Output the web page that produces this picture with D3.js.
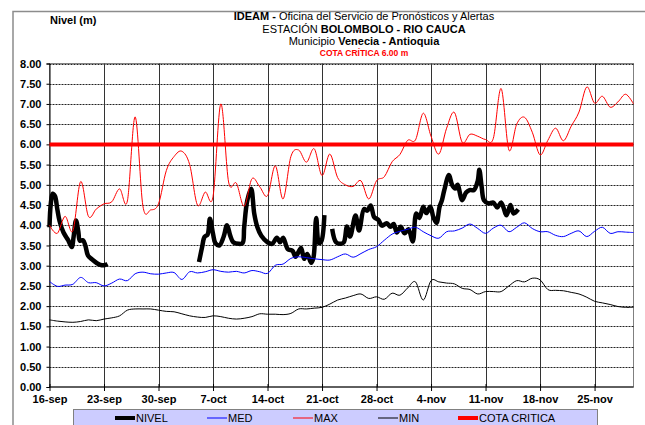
<!DOCTYPE html>
<html>
<head>
<meta charset="utf-8">
<script src="https://cdn.jsdelivr.net/npm/d3@7"></script>
<style>
  body { margin: 0; background: #fff; }
  svg { display: block; font-family: "Liberation Sans", Arial, sans-serif; }
</style>
</head>
<body>
<svg id="chart" width="645" height="425"></svg>
<script>
// Period shown on the time axis
const periodStart = "2015-09-16";
const periodEnd = "2015-11-30";

// Weekly axis labels
const tickLabels = ["16-sep", "23-sep", "30-sep", "7-oct", "14-oct", "21-oct",
                    "28-oct", "4-nov", "11-nov", "18-nov", "25-nov"];

// Daily historical statistics (m), one value per day from 16-sep to 30-nov
const medValues = [2.61, 2.49, 2.52, 2.54, 2.71, 2.58, 2.58, 2.50, 2.57, 2.67,
  2.63, 2.80, 2.84, 2.80, 2.79, 2.82, 2.83, 2.66, 2.85, 2.82,
  2.85, 2.90, 2.86, 2.84, 2.86, 2.82, 2.88, 2.85, 2.81, 3.01,
  3.04, 3.18, 3.22, 3.20, 3.17, 3.15, 3.14, 3.22, 3.29, 3.21,
  3.30, 3.40, 3.47, 3.63, 3.78, 3.85, 3.90, 3.95, 3.84, 3.74,
  3.68, 3.84, 3.86, 3.93, 4.03, 3.92, 3.80, 3.93, 4.00, 3.84,
  3.95, 4.06, 3.92, 3.84, 3.84, 3.75, 3.72, 3.80, 3.86, 3.72,
  3.85, 3.95, 3.80, 3.84, 3.83, 3.82];

const maxValues = [4.00, 3.80, 4.22, 3.86, 5.08, 4.22, 4.40, 4.53, 4.58, 4.90,
  4.60, 6.68, 4.47, 4.38, 4.53, 5.35, 5.70, 5.83, 5.50, 4.50,
  4.82, 4.71, 7.00, 5.07, 5.04, 4.47, 5.15, 4.95, 4.73, 5.47,
  4.65, 5.70, 5.86, 5.56, 5.89, 5.23, 5.76, 5.18, 5.00, 4.96,
  5.10, 4.65, 5.10, 5.20, 5.57, 5.75, 6.10, 6.11, 6.77, 6.20,
  5.76, 6.40, 6.79, 6.05, 6.25, 6.20, 6.12, 6.15, 7.38, 5.86,
  6.50, 6.67, 6.30, 5.74, 6.10, 6.40, 6.09, 6.45, 6.80, 7.42,
  7.02, 7.19, 6.92, 7.05, 7.24, 7.00];

const minValues = [1.66, 1.63, 1.61, 1.60, 1.62, 1.66, 1.64, 1.68, 1.71, 1.76,
  1.90, 1.93, 1.93, 1.93, 1.90, 1.87, 1.86, 1.81, 1.76, 1.73,
  1.72, 1.76, 1.74, 1.70, 1.68, 1.70, 1.74, 1.81, 1.80, 1.80,
  1.79, 1.82, 1.93, 1.93, 1.95, 1.97, 2.05, 2.15, 2.20, 2.26,
  2.30, 2.19, 2.23, 2.17, 2.32, 2.27, 2.45, 2.60, 2.15, 2.63,
  2.60, 2.57, 2.55, 2.44, 2.41, 2.30, 2.36, 2.36, 2.36, 2.50,
  2.63, 2.60, 2.69, 2.65, 2.41, 2.39, 2.38, 2.34, 2.30, 2.22,
  2.12, 2.08, 2.04, 1.99, 1.97, 1.97];

// Observed level readings: days since 16-sep and level (m); null marks a gap
const nivelDays = [0, 0.15, 0.4, 0.7, 1.0, 1.3, 1.8, 2.4, 2.85, 3.1, 3.4, 3.7, 3.9, 4.3, 4.6,
  4.95, 5.5, 6.1, 6.7, 7.2, 7.45,
  13,
  19.2, 19.6, 19.9, 20.3, 20.6, 21.0, 21.3, 21.8, 22.35, 22.8, 23.2, 23.6, 24.3, 24.8,
  25.0, 25.4, 25.9, 26.3, 26.7, 27.2, 28.0, 28.6, 29.2, 29.6, 30.0, 30.6, 31.2, 31.6,
  32.3, 32.7, 33.1, 33.6, 33.9, 34.25, 34.6, 34.9, 35.3,
  35.8,
  36.3, 36.8, 37.4, 37.8, 38.2, 38.6, 39.3, 39.75, 40.4, 40.8, 41.25, 41.7, 42.2, 42.7,
  43.3, 43.8, 44.2, 44.6, 45.1, 45.6, 46.1, 46.65, 47.1, 47.5, 48.0, 48.4, 48.9, 49.3,
  49.7, 50.1, 50.4, 50.7, 51.3, 51.7, 52.1, 52.4, 53.0, 53.5, 53.95, 54.5, 55.0, 55.2,
  55.5, 55.8, 56.4, 57.0, 57.5, 58.0, 58.7, 59.2, 59.6, 60.2];
const nivelValues = [3.95, 4.50, 4.78, 4.72, 4.40, 4.10, 3.82, 3.63, 3.46, 3.72, 4.12, 3.85, 3.62, 3.63, 3.50,
  3.25, 3.15, 3.06, 3.01, 3.02, 3.04,
  null,
  3.09, 3.46, 3.71, 3.77, 4.16, 3.79, 3.56, 3.50, 3.71, 4.00, 3.75, 3.58, 3.54, 3.56,
  3.95, 4.61, 4.90, 4.28, 3.95, 3.74, 3.58, 3.54, 3.69, 3.58, 3.69, 3.41, 3.37, 3.22,
  3.44, 3.17, 3.29, 3.07, 3.20, 4.18, 3.56, 3.60, 4.25,
  null,
  3.91, 3.58, 3.54, 3.58, 3.97, 3.72, 4.24, 3.87, 4.40, 4.36, 4.49, 4.20, 4.14, 3.99,
  4.05, 3.96, 4.03, 3.82, 3.96, 3.80, 3.90, 3.60, 4.29, 4.18, 4.46, 4.30, 4.46, 4.20,
  4.06, 4.46, 4.62, 4.87, 5.24, 5.00, 4.91, 5.00, 4.62, 4.81, 4.87, 4.87, 5.10, 5.37,
  4.95, 4.62, 4.54, 4.56, 4.44, 4.56, 4.25, 4.50, 4.29, 4.39];

// Critical level
const cotaCritica = 6.00;

// Level axis ticks
const yTicks = [0, 0.5, 1, 1.5, 2, 2.5, 3, 3.5, 4, 4.5, 5, 5.5, 6, 6.5, 7, 7.5, 8];

const legendItems = [
  { label: "NIVEL", color: "#000", width: 4 },
  { label: "MED", color: "#0000ff", width: 1 },
  { label: "MAX", color: "#ff0000", width: 1 },
  { label: "MIN", color: "#000", width: 1 },
  { label: "COTA CRITICA", color: "#ff0000", width: 4 }
];

const parse = d3.timeParse("%Y-%m-%d");
const t0 = parse(periodStart), t1 = parse(periodEnd);
const days = d3.timeDay.range(t0, d3.timeDay.offset(t1, 1));
const weekDates = d3.timeDay.range(t0, t1, 7);

const svg = d3.select("#chart");
const plot = { left: 49.5, right: 633.5, top: 63.5, bottom: 387 };

const x = d3.scaleTime().domain([t0, t1]).range([plot.left, plot.right]);
const y = d3.scaleLinear().domain([0, 8]).range([plot.bottom, plot.top]);

// Outer frame
svg.append("path")
  .attr("d", `M13,430 V11.5 H650`)
  .attr("fill", "none").attr("stroke", "#8c8c8c").attr("stroke-width", 1.5);

// Plot border
svg.append("rect")
  .attr("x", plot.left).attr("y", plot.top)
  .attr("width", plot.right - plot.left).attr("height", plot.bottom - plot.top)
  .attr("fill", "none").attr("stroke", "#808080").attr("stroke-width", 1);

// Horizontal dashed gridlines
svg.append("g").selectAll("line").data(yTicks.filter(v => v > 0)).join("line")
  .attr("x1", plot.left).attr("x2", plot.right)
  .attr("y1", d => Math.round(y(d)) + 0.5).attr("y2", d => Math.round(y(d)) + 0.5)
  .attr("stroke", "#222").attr("stroke-width", 1).attr("stroke-dasharray", "2,1");

// Vertical weekly gridlines
svg.append("g").selectAll("line").data(weekDates.slice(1)).join("line")
  .attr("x1", d => Math.round(x(d)) + 0.5).attr("x2", d => Math.round(x(d)) + 0.5)
  .attr("y1", plot.top).attr("y2", plot.bottom)
  .attr("stroke", "#333").attr("stroke-width", 1);

// Axes
const yAxis = d3.axisLeft(y).tickValues(yTicks).tickFormat(d3.format(".2f")).tickSize(3).tickPadding(5);
const gy = svg.append("g").attr("transform", `translate(${plot.left},0)`).call(yAxis);
gy.select(".domain").attr("stroke", "#000");
gy.selectAll("text").attr("font-size", 11).attr("font-weight", "bold").attr("fill", "#000")
  .style("font-family", "'Liberation Sans', Arial, sans-serif");

const xAxis = d3.axisBottom(x).tickValues(weekDates)
  .tickFormat((d, i) => tickLabels[i]).tickSize(4).tickPadding(4);
const gx = svg.append("g").attr("transform", `translate(0,${plot.bottom})`).call(xAxis);
gx.select(".domain").attr("stroke", "#000").attr("d", `M${plot.left},0H${plot.right}`);
gx.selectAll(".tick line").attr("y1", -3);
gx.selectAll("text").attr("font-size", 11).attr("font-weight", "bold").attr("fill", "#000")
  .style("font-family", "'Liberation Sans', Arial, sans-serif");

// Series (smoothed lines)
const curve = d3.curveCatmullRom.alpha(0);
const dailyLine = d3.line().x((d, i) => x(days[i])).y(d => y(d)).curve(curve);

const nivelPts = nivelDays.map((d, i) => ({ t: d3.timeMinute.offset(t0, Math.round(d * 1440)), v: nivelValues[i] }));
const nivelLine = d3.line().defined(d => d.v !== null).x(d => x(d.t)).y(d => y(d.v)).curve(d3.curveCatmullRom.alpha(0.5));

svg.append("path").attr("d", nivelLine(nivelPts))
  .attr("fill", "none").attr("stroke", "#000").attr("stroke-width", 4.5).attr("stroke-linejoin", "round");
svg.append("path").attr("d", dailyLine(medValues))
  .attr("fill", "none").attr("stroke", "#0000ff").attr("stroke-width", 1);
svg.append("path").attr("d", dailyLine(maxValues))
  .attr("fill", "none").attr("stroke", "#ff0000").attr("stroke-width", 1);
svg.append("path").attr("d", dailyLine(minValues))
  .attr("fill", "none").attr("stroke", "#000").attr("stroke-width", 1);
svg.append("line")
  .attr("x1", plot.left).attr("x2", plot.right)
  .attr("y1", y(cotaCritica)).attr("y2", y(cotaCritica))
  .attr("stroke", "#ff0000").attr("stroke-width", 4);

// Titles
svg.append("text").attr("x", 50).attr("y", 24).attr("text-anchor", "start")
  .attr("font-size", 11).attr("font-weight", "bold").text("Nivel (m)");

const titleLines = [
  { y: 20, parts: [["IDEAM - ", "bold"], ["Oficina del Servicio de Pronósticos y Alertas", "normal"]], size: 11, color: "#000" },
  { y: 33, parts: [["ESTACIÓN ", "normal"], ["BOLOMBOLO - RIO CAUCA", "bold"]], size: 11, color: "#000" },
  { y: 45, parts: [["Municipio ", "normal"], ["Venecia - Antioquia", "bold"]], size: 11, color: "#000" },
  { y: 56, parts: [["COTA CRÍTICA 6.00 m", "bold"]], size: 8.5, color: "#ff0000" }
];
titleLines.forEach(line => {
  const t = svg.append("text").attr("x", 364).attr("y", line.y)
    .attr("text-anchor", "middle").attr("font-size", line.size).attr("fill", line.color);
  line.parts.forEach(p => t.append("tspan").attr("font-weight", p[1]).text(p[0]));
});

// Legend
const legend = svg.append("g");
legend.append("rect").attr("x", 73.5).attr("y", 409.5).attr("width", 524).attr("height", 22)
  .attr("fill", "#ccccff").attr("stroke", "#808080").attr("stroke-width", 1);
const legendX = [115, 207, 293, 378, 458];
legendItems.forEach((item, i) => {
  const g = legend.append("g").attr("transform", `translate(${legendX[i]},418)`);
  g.append("line").attr("x1", 0).attr("x2", 20).attr("y1", 0).attr("y2", 0)
    .attr("stroke", item.color).attr("stroke-width", item.width);
  g.append("text").attr("x", 21).attr("y", 4).attr("font-size", 11).text(item.label);
});
</script>
</body>
</html>
